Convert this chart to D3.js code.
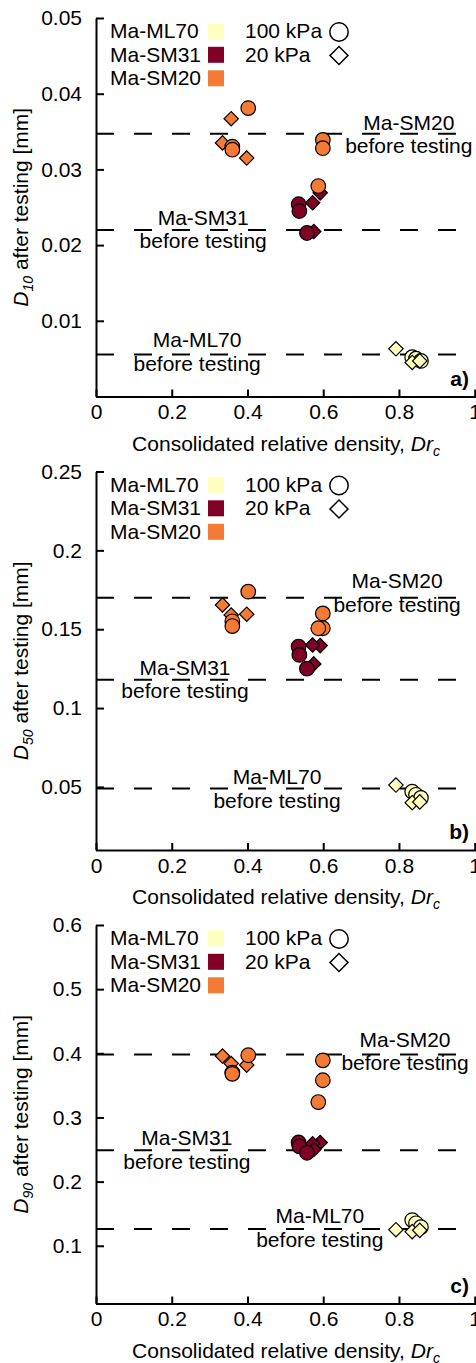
<!DOCTYPE html>
<html>
<head>
<meta charset="utf-8">
<script src="https://cdn.jsdelivr.net/npm/d3@7"></script>
<style>
  body { margin: 0; background: #fff; }
  svg { display: block; font-family: "Liberation Sans", Arial, sans-serif; }
</style>
</head>
<body>
<div id="chart"></div>
<script>
const materials = ['Ma-ML70', 'Ma-SM31', 'Ma-SM20'];
const materialColors = ['#FFFFC0', '#800026', '#F47A35'];
const pressures = ['100 kPa', '20 kPa'];

// one entry per specimen, in drawing order
const specMaterial = ['Ma-ML70', 'Ma-ML70', 'Ma-ML70', 'Ma-ML70', 'Ma-ML70', 'Ma-ML70',
  'Ma-SM31', 'Ma-SM31', 'Ma-SM31', 'Ma-SM31', 'Ma-SM31', 'Ma-SM31',
  'Ma-SM20', 'Ma-SM20', 'Ma-SM20', 'Ma-SM20', 'Ma-SM20', 'Ma-SM20', 'Ma-SM20', 'Ma-SM20', 'Ma-SM20'];
const specPressure = ['100 kPa', '100 kPa', '100 kPa', '20 kPa', '20 kPa', '20 kPa',
  '20 kPa', '20 kPa', '20 kPa', '100 kPa', '100 kPa', '100 kPa',
  '20 kPa', '20 kPa', '20 kPa', '100 kPa', '100 kPa', '100 kPa', '100 kPa', '100 kPa', '100 kPa'];
const specDr = [0.835, 0.845, 0.858, 0.792, 0.835, 0.855,
  0.592, 0.572, 0.575, 0.535, 0.537, 0.557,
  0.334, 0.357, 0.398, 0.36, 0.36, 0.402, 0.599, 0.599, 0.587];

const d10After = [0.0052, 0.0050, 0.0047, 0.0063, 0.0045, 0.0047,
  0.0269, 0.0256, 0.0218, 0.0254, 0.0245, 0.0216,
  0.0335, 0.0367, 0.0315, 0.0330, 0.0326, 0.0381, 0.0339, 0.0328, 0.0278];
const d50After = [0.047, 0.045, 0.043, 0.0512, 0.040, 0.0405,
  0.1396, 0.140, 0.128, 0.139, 0.1337, 0.125,
  0.1654, 0.159, 0.1595, 0.155, 0.152, 0.1738, 0.160, 0.1506, 0.1506];
const d90After = [0.140, 0.135, 0.129, 0.125, 0.122, 0.124,
  0.261, 0.259, 0.250, 0.261, 0.255, 0.245,
  0.3957, 0.384, 0.3816, 0.370, 0.368, 0.397, 0.389, 0.358, 0.324];

// grain size of each material before testing (ML70, SM31, SM20)
const d10Before = [0.00555, 0.022, 0.0347];
const d50Before = [0.049, 0.118, 0.170];
const d90Before = [0.126, 0.249, 0.398];

const xTicks = [0, 0.2, 0.4, 0.6, 0.8, 1];
const d10Ticks = [0.01, 0.02, 0.03, 0.04, 0.05];
const d50Ticks = [0.05, 0.1, 0.15, 0.2, 0.25];
const d90Ticks = [0.1, 0.2, 0.3, 0.4, 0.5, 0.6];

const width = 476;
const height = 1363;
const left = 96, right = 474.7;
const plotH = 378.5;
const fontSize = 21;

const panels = [
  { top: 18, yDomain: [0, 0.05], ticks: d10Ticks, after: d10After, before: d10Before, sub: '10', tag: 'a)',
    labelX: [0.267, 0.283, 0.826], labelDy: [-7, -5, -4] },
  { top: 471.5, yDomain: [0.01, 0.25], ticks: d50Ticks, after: d50After, before: d50Before, sub: '50', tag: 'b)',
    labelX: [0.478, 0.235, 0.795], labelDy: [-4, -5, -9.5] },
  { top: 925, yDomain: [0.01, 0.6], ticks: d90Ticks, after: d90After, before: d90Before, sub: '90', tag: 'c)',
    labelX: [0.591, 0.24, 0.816], labelDy: [-5.7, -5, -7.6] }
];

const color = d3.scaleOrdinal().domain(materials).range(materialColors);
const x = d3.scaleLinear().domain([0, 1]).range([left, right]);

const svg = d3.select('#chart').append('svg')
  .attr('width', width)
  .attr('height', height)
  .style('font-size', fontSize + 'px');

const circleSym = r => d3.symbol(d3.symbolCircle, Math.PI * r * r)();
const diamondSym = h => d3.symbol(d3.symbolSquare, 2 * h * h)();
const shape = (p, big) => p === '100 kPa' ? circleSym(big ? 9.2 : 7.3) : diamondSym(big ? 9 : 7.2);

panels.forEach(p => {
  const g = svg.append('g').attr('transform', `translate(0,${p.top})`);
  const y = d3.scaleLinear().domain(p.yDomain).range([plotH, 0]);

  // dashed "before testing" lines
  g.selectAll('line.before')
    .data(p.before)
    .join('line')
    .attr('class', 'before')
    .attr('x1', x(0)).attr('x2', width)
    .attr('y1', d => y(d)).attr('y2', d => y(d))
    .attr('stroke', '#000')
    .attr('stroke-width', 2)
    .attr('stroke-dasharray', '18,20');

  // labels of the lines
  const lab = g.selectAll('text.before')
    .data(p.before)
    .join('text')
    .attr('class', 'before')
    .attr('text-anchor', 'middle')
    .attr('transform', (d, i) => `translate(${x(p.labelX[i])},${y(d) + p.labelDy[i]})`);
  lab.append('tspan').attr('x', 0).text((d, i) => materials[i]);
  lab.append('tspan').attr('x', 0).attr('dy', 23.5).text('before testing');

  // axes
  const yAxis = g.append('g')
    .attr('transform', `translate(${left},0)`)
    .call(d3.axisLeft(y).tickValues(p.ticks).tickSizeInner(-8).tickSizeOuter(0).tickPadding(14).tickFormat(d => String(d)));
  const xAxis = g.append('g')
    .attr('transform', `translate(0,${plotH})`)
    .call(d3.axisBottom(x).tickValues(xTicks).tickSizeInner(-7).tickSizeOuter(0).tickPadding(8).tickFormat(d => String(d)));
  [yAxis, xAxis].forEach(a => {
    a.attr('font-size', null).attr('font-family', null);
    a.select('.domain').attr('stroke-width', 2);
    a.selectAll('.tick line').attr('stroke-width', 2);
    a.selectAll('.tick text').attr('fill', '#000');
  });
  xAxis.select('.domain').attr('d', `M${left},0.5H${width}`);

  // points
  g.selectAll('path.pt')
    .data(p.after.map((v, i) => ({ v, dr: specDr[i], m: specMaterial[i], pr: specPressure[i] })))
    .join('path')
    .attr('class', 'pt')
    .attr('d', d => shape(d.pr, false))
    .attr('transform', d => `translate(${x(d.dr)},${y(d.v)})` + (d.pr === '20 kPa' ? ' rotate(45)' : ''))
    .attr('fill', d => color(d.m))
    .attr('stroke', '#000')
    .attr('stroke-width', 1.2);

  // legend
  const leg = g.append('g');
  materials.forEach((m, i) => {
    const by = 20 + i * 23.5;
    leg.append('text').attr('x', 110).attr('y', by).text(m);
    leg.append('rect').attr('x', 208).attr('y', by - 14.7).attr('width', 16).attr('height', 16).attr('fill', color(m));
  });
  pressures.forEach((pr, i) => {
    const by = 20 + i * 23.5;
    leg.append('text').attr('x', 245).attr('y', by).text(pr);
    leg.append('path')
      .attr('d', shape(pr, true))
      .attr('transform', `translate(339,${by - 6})` + (pr === '20 kPa' ? ' rotate(45)' : ''))
      .attr('fill', '#fff')
      .attr('stroke', '#000')
      .attr('stroke-width', 1.5);
  });

  // panel tag
  g.append('text')
    .attr('x', 469).attr('y', plotH - 11)
    .attr('text-anchor', 'end')
    .attr('font-weight', 'bold')
    .text(p.tag);

  // axis titles
  const xt = g.append('text')
    .attr('x', 286).attr('y', plotH + 54)
    .attr('text-anchor', 'middle');
  xt.append('tspan').text('Consolidated relative density, ');
  xt.append('tspan').attr('font-style', 'italic').text('Dr');
  xt.append('tspan').attr('font-style', 'italic').attr('font-size', 14).attr('dy', 5).text('c');

  const yt = g.append('text')
    .attr('transform', `translate(28,${plotH / 2}) rotate(-90)`)
    .attr('text-anchor', 'middle');
  yt.append('tspan').attr('font-style', 'italic').text('D');
  yt.append('tspan').attr('font-style', 'italic').attr('font-size', 14).attr('dy', 5).text(p.sub);
  yt.append('tspan').attr('dy', -5).text(' after testing [mm]');
});
</script>
</body>
</html>
